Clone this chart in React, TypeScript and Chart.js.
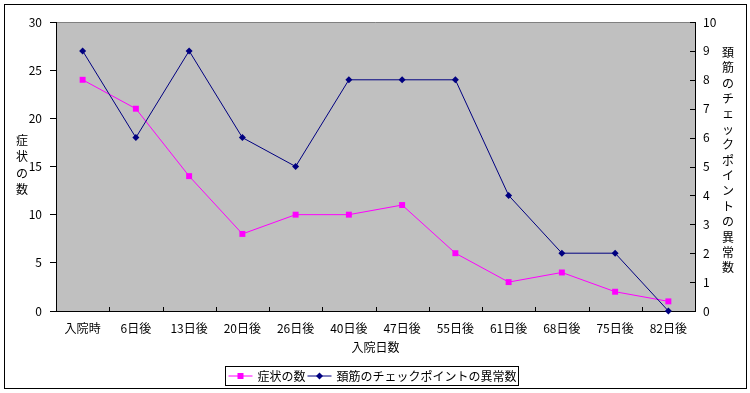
import React, { useEffect, useRef } from "react";
import { Chart, registerables } from "chart.js";

Chart.register(...registerables);

const categories = ["入院時", "6日後", "13日後", "20日後", "26日後", "40日後", "47日後", "55日後", "61日後", "68日後", "75日後", "82日後"];
const symptomCounts = [24, 21, 14, 8, 10, 10, 11, 6, 3, 4, 2, 1];
const neckAbnormal = [9, 6, 9, 6, 5, 8, 8, 8, 4, 2, 2, 0];
const seriesNames = ["症状の数", "頚筋のチェックポイントの異常数"];
const leftTitle = "症状の数";
const rightTitle = "頚筋のチェックポイントの異常数";
const xTitle = "入院日数";

const FONT = "'Noto Sans CJK JP', 'Noto Sans', sans-serif";
const PINK = "#FF00FF";
const NAVY = "#000080";

const decorPlugin = {
  id: "decor",
  beforeDraw(chart: any) {
    const { ctx, chartArea: a } = chart;
    ctx.save();
    ctx.fillStyle = "#FFFFFF";
    ctx.fillRect(0, 0, chart.width, chart.height);
    ctx.fillStyle = "#C0C0C0";
    ctx.fillRect(a.left, a.top, a.right - a.left, a.bottom - a.top);
    ctx.strokeStyle = "#808080";
    ctx.lineWidth = 1;
    ctx.beginPath();
    ctx.moveTo(a.left, a.top + 0.5);
    ctx.lineTo(a.right, a.top + 0.5);
    ctx.stroke();
    ctx.restore();
  },
  afterDatasetsDraw(chart: any) {
    const { ctx, chartArea: a } = chart;
    const xs = chart.scales.x;
    const y2 = chart.scales.y2;
    ctx.save();
    ctx.strokeStyle = "#000000";
    ctx.lineWidth = 1;
    ctx.beginPath();
    for (let i = 1; i < categories.length; i++) {
      const x = Math.round((xs.getPixelForTick(i - 1) + xs.getPixelForTick(i)) / 2) + 0.5;
      ctx.moveTo(x, a.bottom);
      ctx.lineTo(x, a.bottom - 4);
    }
    y2.ticks.forEach((t: any) => {
      const y = Math.round(y2.getPixelForValue(t.value)) + 0.5;
      ctx.moveTo(a.right, y);
      ctx.lineTo(a.right - 5, y);
    });
    ctx.stroke();
    ctx.restore();
  },
  afterDraw(chart: any) {
    const { ctx, chartArea: a } = chart;
    ctx.save();
    ctx.fillStyle = "#000000";
    ctx.font = `12px ${FONT}`;
    ctx.textAlign = "center";
    ctx.textBaseline = "middle";
    const lc = [...leftTitle];
    const ls = 16.5;
    const lmid = 165;
    lc.forEach((c, i) => ctx.fillText(c, 22, lmid + (i - (lc.length - 1) / 2) * ls));
    const rc = [...rightTitle];
    const rs = 15.4;
    const rmid = 160;
    rc.forEach((c, i) => ctx.fillText(c, 728, rmid + (i - (rc.length - 1) / 2) * rs));
    ctx.fillText(xTitle, (a.left + a.right) / 2, 347);

    // legend
    const t1 = seriesNames[0];
    const t2 = seriesNames[1];
    const w1 = ctx.measureText(t1).width;
    const w2 = ctx.measureText(t2).width;
    const lineW = 24;
    const total = 3 + lineW + 5 + w1 + 2 + lineW + 5 + w2 + 2;
    const bx = Math.round(372 - total / 2) + 0.5;
    const by = 366.5;
    const bh = 19;
    ctx.strokeStyle = "#000000";
    ctx.lineWidth = 1;
    ctx.strokeRect(bx, by, Math.round(total), bh);
    const cy = by + bh / 2;
    let x = bx + 3;
    ctx.strokeStyle = PINK;
    ctx.beginPath();
    ctx.moveTo(x, cy);
    ctx.lineTo(x + lineW, cy);
    ctx.stroke();
    ctx.fillStyle = PINK;
    ctx.fillRect(x + lineW / 2 - 3, cy - 3, 6, 6);
    x += lineW + 5;
    ctx.fillStyle = "#000000";
    ctx.textAlign = "left";
    ctx.fillText(t1, x, cy);
    x += w1 + 2;
    ctx.strokeStyle = NAVY;
    ctx.beginPath();
    ctx.moveTo(x, cy);
    ctx.lineTo(x + lineW, cy);
    ctx.stroke();
    ctx.fillStyle = NAVY;
    const mx = x + lineW / 2;
    ctx.beginPath();
    ctx.moveTo(mx, cy - 3.5);
    ctx.lineTo(mx + 3.5, cy);
    ctx.lineTo(mx, cy + 3.5);
    ctx.lineTo(mx - 3.5, cy);
    ctx.closePath();
    ctx.fill();
    x += lineW + 5;
    ctx.fillStyle = "#000000";
    ctx.fillText(t2, x, cy);

    ctx.strokeStyle = "#000000";
    ctx.strokeRect(4.5, 4.5, 742, 384);
    ctx.restore();
  },
};

export default function App() {
  const ref = useRef<HTMLCanvasElement>(null);
  useEffect(() => {
    document.body.style.margin = "0";
    const chart = new Chart(ref.current!, {
      type: "line",
      data: {
        labels: categories,
        datasets: [
          {
            label: seriesNames[0],
            data: symptomCounts,
            yAxisID: "y",
            borderColor: PINK,
            backgroundColor: PINK,
            borderWidth: 1,
            pointStyle: "rect",
            pointRadius: 4.2,
            pointBorderWidth: 0,
            tension: 0,
            clip: false as any,
            order: 1,
          },
          {
            label: seriesNames[1],
            data: neckAbnormal,
            yAxisID: "y2",
            borderColor: NAVY,
            backgroundColor: NAVY,
            borderWidth: 1,
            pointStyle: "rectRot",
            pointRadius: 3.5,
            pointBorderWidth: 0,
            tension: 0,
            clip: false as any,
            order: 0,
          },
        ],
      },
      options: {
        responsive: false,
        animation: false,
        devicePixelRatio: 1,
        layout: { padding: { top: 22, left: 0, right: 0, bottom: 0 } },
        plugins: { legend: { display: false }, tooltip: { enabled: false } },
        scales: {
          x: {
            type: "category",
            offset: true,
            grid: { display: false, drawTicks: false },
            border: { display: true, color: "#000000", width: 1 },
            ticks: { color: "#000000", font: { family: FONT, size: 12 }, padding: 10, maxRotation: 0, autoSkip: false },
            afterFit: (s: any) => { s.height = 82; },
          },
          y: {
            position: "left",
            min: 0,
            max: 30,
            ticks: { stepSize: 5, color: "#000000", font: { family: FONT, size: 12 }, padding: 8 },
            grid: { drawOnChartArea: false, drawTicks: true, tickLength: 6, color: "#000000" },
            border: { display: true, color: "#000000", width: 1 },
            afterFit: (s: any) => { s.width = 56; },
          },
          y2: {
            position: "right",
            min: 0,
            max: 10,
            ticks: { stepSize: 1, color: "#000000", font: { family: FONT, size: 12 }, padding: 8 },
            grid: { display: false, drawTicks: false },
            border: { display: true, color: "#000000", width: 1 },
            afterFit: (s: any) => { s.width = 55; },
          },
        },
      },
      plugins: [decorPlugin],
    } as any);
    return () => chart.destroy();
  }, []);
  return <canvas ref={ref} width={750} height={393} style={{ display: "block" }} />;
}
